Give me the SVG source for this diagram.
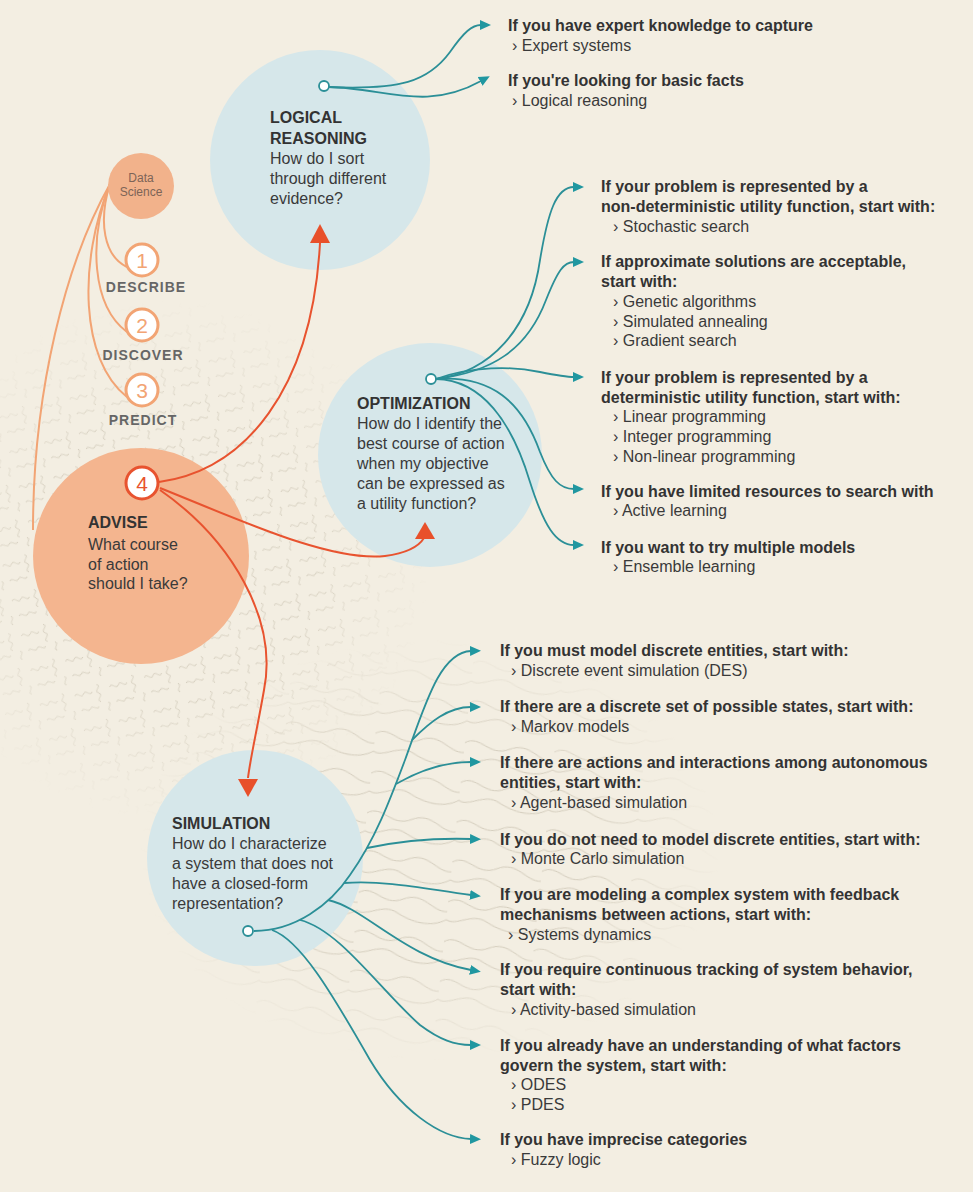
<svg xmlns="http://www.w3.org/2000/svg" width="973" height="1192" viewBox="0 0 973 1192">
  <defs>
    <style>
      .h { font-family: "Liberation Sans", Arial, sans-serif; font-weight: bold; font-size: 16px; fill: #333; }
      .t { font-family: "Liberation Sans", Arial, sans-serif; font-size: 16px; fill: #3a3a3a; }
      .step { font-family: "Liberation Sans", Arial, sans-serif; font-weight: bold; font-size: 14px; fill: #666; letter-spacing: 1px; text-anchor: middle; }
      .num { font-family: "Liberation Sans", Arial, sans-serif; font-size: 21px; text-anchor: middle; }
      .teal { fill: none; stroke: #2b8f97; stroke-width: 1.8; }
      .red { fill: none; stroke: #e8532f; stroke-width: 2; }
      .lite { fill: none; stroke: #f2a474; stroke-width: 2; }
      .blue { fill: #d6e7ea; }
      .dot { fill: #ffffff; stroke: #2b8f97; stroke-width: 1.8; }
      .redtri { fill: #e8502a; }
      .sq { fill: none; stroke: #d4cdbd; stroke-width: 1; }
    </style>
    <marker id="tip" markerUnits="userSpaceOnUse" markerWidth="12" markerHeight="12" refX="1" refY="6" orient="auto" viewBox="0 0 12 12">
      <path d="M0,1 L11,6 L0,11 Z" fill="#2097a0"/>
    </marker>
    <!-- squiggly fill used behind the advise area -->
    <pattern id="squig" width="36" height="36" patternUnits="userSpaceOnUse" patternTransform="rotate(-15)">
      <path class="sq" d="M0,8 c3,-5 6,5 9,0 s6,5 9,0"/>
      <path class="sq" d="M24,2 c5,3 -5,6 0,9 s-5,6 0,9"/>
      <path class="sq" d="M3,24 c3,-4 6,4 9,0 s6,4 9,0"/>
      <path class="sq" d="M31,22 c4,3 -4,6 0,9"/>
    </pattern>
    <!-- contour-line fill used around the simulation area -->
    <pattern id="topo" width="90" height="40" patternUnits="userSpaceOnUse" patternTransform="rotate(6)">
      <path class="sq" d="M0,10 c15,-10 25,12 45,2 s30,10 45,8"/>
      <path class="sq" d="M0,28 c10,6 25,-10 40,-2 s35,12 50,2"/>
    </pattern>
    <radialGradient id="fade">
      <stop offset="0.55" stop-color="#fff" stop-opacity="1"/>
      <stop offset="1" stop-color="#fff" stop-opacity="0"/>
    </radialGradient>
    <mask id="fadeA"><circle cx="170" cy="560" r="260" fill="url(#fade)"/></mask>
    <mask id="fadeB"><ellipse cx="430" cy="850" rx="290" ry="210" fill="url(#fade)"/></mask>
  </defs>

  <!-- paper -->
  <rect width="973" height="1192" fill="#f3eee2"/>
  <rect width="973" height="1192" fill="url(#squig)" mask="url(#fadeA)"/>
  <rect width="973" height="1192" fill="url(#topo)" mask="url(#fadeB)"/>

  <!-- big topic circles -->
  <g id="advise-bg"><circle cx="141" cy="556" r="108" fill="#f4b58f"/></g>
  <g id="logical-bg"><circle class="blue" cx="320" cy="160" r="110"/></g>
  <g id="optimization-bg"><circle class="blue" cx="430" cy="455" r="112"/></g>
  <g id="simulation-bg"><circle class="blue" cx="255" cy="858" r="108"/></g>

  <!-- connectors -->
  <g id="connectors">
    <!-- data science hierarchy -->
    <path class="lite" d="M110,184 C98,222 104,256 127,267"/>
    <path class="lite" d="M110,184 C88,240 92,306 127,332"/>
    <path class="lite" d="M110,184 C78,262 80,360 127,397"/>
    <path class="lite" d="M110,184 C66,262 33,390 33,530"/>

    <!-- advise to the three approaches -->
    <path class="red" d="M159,482 C245,470 312,390 320,243"/>
    <path class="red" d="M160,488 C240,520 330,562 385,556 C408,553 419,546 424,538"/>
    <path class="red" d="M160,490 C232,540 278,620 264,690 C257,730 250,760 248,778"/>

    <!-- logical reasoning branches -->
    <path class="teal" marker-end="url(#tip)" d="M329,87 C400,90 428,82 450,52 C464,32 472,25 481,25"/>
    <path class="teal" marker-end="url(#tip)" d="M329,87 C385,88 425,112 481,81"/>

    <!-- optimization branches -->
    <path class="teal" marker-end="url(#tip)" d="M436,379 C490,372 530,330 540,260 C548,212 556,187 574,187"/>
    <path class="teal" marker-end="url(#tip)" d="M436,379 C492,372 527,350 546,300 C558,270 564,262 574,262"/>
    <path class="teal" marker-end="url(#tip)" d="M436,379 C472,366 512,366 540,372 C555,375 565,377 574,377"/>
    <path class="teal" marker-end="url(#tip)" d="M436,379 C492,375 522,402 540,452 C551,480 560,489 574,489"/>
    <path class="teal" marker-end="url(#tip)" d="M436,379 C482,380 512,422 530,482 C544,526 556,545 574,545"/>

    <!-- simulation trunk and branches -->
    <path class="teal" marker-end="url(#tip)" d="M254,931 C295,931 330,905 350,875 C375,840 390,800 405,760 C425,705 440,652 471,651"/>
    <path class="teal" marker-end="url(#tip)" d="M412,740 C430,722 448,707 471,707"/>
    <path class="teal" marker-end="url(#tip)" d="M396,784 C420,770 445,762 471,762"/>
    <path class="teal" marker-end="url(#tip)" d="M367,848 C400,841 440,838 471,839"/>
    <path class="teal" marker-end="url(#tip)" d="M344,883 C390,880 430,890 471,895"/>
    <path class="teal" marker-end="url(#tip)" d="M328,900 C365,908 405,958 471,970"/>
    <path class="teal" marker-end="url(#tip)" d="M300,920 C340,930 380,990 420,1025 C440,1040 455,1045 471,1045"/>
    <path class="teal" marker-end="url(#tip)" d="M272,930 C300,940 330,990 370,1060 C400,1110 440,1138 471,1139"/>
  </g>

  <!-- Data Science and steps -->
  <g id="data-science">
    <circle cx="141" cy="186" r="33" fill="#f2b28b"/>
    <text x="141" y="182" text-anchor="middle" font-family="Liberation Sans, Arial, sans-serif" font-size="12" fill="#7d6457">Data</text>
    <text x="141" y="196" text-anchor="middle" font-family="Liberation Sans, Arial, sans-serif" font-size="12" fill="#7d6457">Science</text>
  </g>
  <g id="describe">
    <circle cx="142" cy="260" r="16" fill="#fff" stroke="#f2a474" stroke-width="3"/>
    <text class="num" x="142" y="268" fill="#f2a474">1</text>
    <text class="step" x="146" y="292">DESCRIBE</text>
  </g>
  <g id="discover">
    <circle cx="142" cy="325" r="16" fill="#fff" stroke="#f2a474" stroke-width="3"/>
    <text class="num" x="142" y="333" fill="#f2a474">2</text>
    <text class="step" x="143" y="360">DISCOVER</text>
  </g>
  <g id="predict">
    <circle cx="142" cy="390" r="16" fill="#fff" stroke="#f2a474" stroke-width="3"/>
    <text class="num" x="142" y="398" fill="#f2a474">3</text>
    <text class="step" x="143" y="425">PREDICT</text>
  </g>

  <!-- Advise -->
  <g id="advise">
    <circle cx="142" cy="483" r="16" fill="#fff" stroke="#e8532f" stroke-width="3"/>
    <text class="num" x="142" y="491" fill="#e8532f">4</text>
    <text class="h" x="88" y="528">ADVISE</text>
    <text class="t" x="88" y="550">What course</text>
    <text class="t" x="88" y="570">of action</text>
    <text class="t" x="88" y="589">should I take?</text>
  </g>

  <!-- Logical reasoning -->
  <g id="logical-reasoning">
    <circle class="dot" cx="324" cy="86" r="5"/>
    <text class="h" x="270" y="123">LOGICAL</text>
    <text class="h" x="270" y="144">REASONING</text>
    <text class="t" x="270" y="164">How do I sort</text>
    <text class="t" x="270" y="184">through different</text>
    <text class="t" x="270" y="204">evidence?</text>
    <polygon class="redtri" points="320,224 330,243 310,243"/>
  </g>

  <!-- Optimization -->
  <g id="optimization">
    <circle class="dot" cx="431" cy="379" r="5"/>
    <text class="h" x="357" y="409">OPTIMIZATION</text>
    <text class="t" x="357" y="429">How do I identify the</text>
    <text class="t" x="357" y="449">best course of action</text>
    <text class="t" x="357" y="469">when my objective</text>
    <text class="t" x="357" y="489">can be expressed as</text>
    <text class="t" x="357" y="509">a utility function?</text>
    <polygon class="redtri" points="425,522 435,539 415,539"/>
  </g>

  <!-- Simulation -->
  <g id="simulation">
    <circle class="dot" cx="248" cy="931" r="5"/>
    <polygon class="redtri" points="238,779 258,779 248,797"/>
    <text class="h" x="172" y="829">SIMULATION</text>
    <text class="t" x="172" y="849">How do I characterize</text>
    <text class="t" x="172" y="869">a system that does not</text>
    <text class="t" x="172" y="889">have a closed-form</text>
    <text class="t" x="172" y="909">representation?</text>
  </g>

  <!-- Logical reasoning outcomes -->
  <g id="lr-expert">
    <text class="h" x="508" y="31">If you have expert knowledge to capture</text>
    <text class="t" x="512" y="51">› Expert systems</text>
  </g>
  <g id="lr-facts">
    <text class="h" x="508" y="86">If you're looking for basic facts</text>
    <text class="t" x="512" y="106">› Logical reasoning</text>
  </g>

  <!-- Optimization outcomes -->
  <g id="opt-stochastic">
    <text class="h" x="601" y="192">If your problem is represented by a</text>
    <text class="h" x="601" y="212">non-deterministic utility function, start with:</text>
    <text class="t" x="613" y="232">› Stochastic search</text>
  </g>
  <g id="opt-approx">
    <text class="h" x="601" y="267">If approximate solutions are acceptable,</text>
    <text class="h" x="601" y="287">start with:</text>
    <text class="t" x="613" y="307">› Genetic algorithms</text>
    <text class="t" x="613" y="327">› Simulated annealing</text>
    <text class="t" x="613" y="346">› Gradient search</text>
  </g>
  <g id="opt-deterministic">
    <text class="h" x="601" y="383">If your problem is represented by a</text>
    <text class="h" x="601" y="403">deterministic utility function, start with:</text>
    <text class="t" x="613" y="422">› Linear programming</text>
    <text class="t" x="613" y="442">› Integer programming</text>
    <text class="t" x="613" y="462">› Non-linear programming</text>
  </g>
  <g id="opt-active">
    <text class="h" x="601" y="497">If you have limited resources to search with</text>
    <text class="t" x="613" y="516">› Active learning</text>
  </g>
  <g id="opt-ensemble">
    <text class="h" x="601" y="553">If you want to try multiple models</text>
    <text class="t" x="613" y="572">› Ensemble learning</text>
  </g>

  <!-- Simulation outcomes -->
  <g id="sim-des">
    <text class="h" x="500" y="656">If you must model discrete entities, start with:</text>
    <text class="t" x="511" y="676">› Discrete event simulation (DES)</text>
  </g>
  <g id="sim-markov">
    <text class="h" x="500" y="712">If there are a discrete set of possible states, start with:</text>
    <text class="t" x="511" y="732">› Markov models</text>
  </g>
  <g id="sim-agent">
    <text class="h" x="500" y="768">If there are actions and interactions among autonomous</text>
    <text class="h" x="500" y="788">entities, start with:</text>
    <text class="t" x="511" y="808">› Agent-based simulation</text>
  </g>
  <g id="sim-montecarlo">
    <text class="h" x="500" y="845">If you do not need to model discrete entities, start with:</text>
    <text class="t" x="511" y="864">› Monte Carlo simulation</text>
  </g>
  <g id="sim-dynamics">
    <text class="h" x="500" y="900">If you are modeling a complex system with feedback</text>
    <text class="h" x="500" y="920">mechanisms between actions, start with:</text>
    <text class="t" x="508" y="940">› Systems dynamics</text>
  </g>
  <g id="sim-activity">
    <text class="h" x="500" y="975">If you require continuous tracking of system behavior,</text>
    <text class="h" x="500" y="995">start with:</text>
    <text class="t" x="511" y="1015">› Activity-based simulation</text>
  </g>
  <g id="sim-odes">
    <text class="h" x="500" y="1051">If you already have an understanding of what factors</text>
    <text class="h" x="500" y="1071">govern the system, start with:</text>
    <text class="t" x="511" y="1090">› ODES</text>
    <text class="t" x="511" y="1110">› PDES</text>
  </g>
  <g id="sim-fuzzy">
    <text class="h" x="500" y="1145">If you have imprecise categories</text>
    <text class="t" x="511" y="1165">› Fuzzy logic</text>
  </g>
</svg>
